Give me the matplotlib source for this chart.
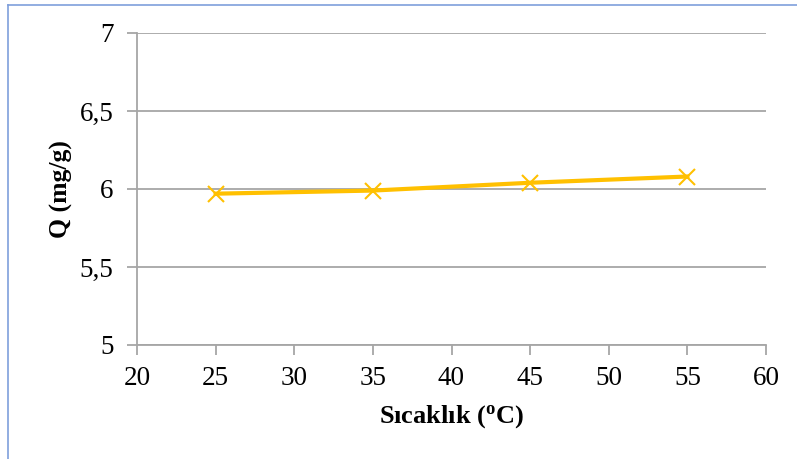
import matplotlib
matplotlib.use("Agg")
import matplotlib.pyplot as plt
from matplotlib.ticker import MultipleLocator, FuncFormatter

temperature = [25, 35, 45, 55]
q_values = [5.97, 5.99, 6.04, 6.08]
x_label = "Sıcaklık ($\\mathbf{^o}$C)"
y_label = "Q (mg/g)"

plt.rcParams['font.family'] = ['Liberation Serif', 'DejaVu Serif']
plt.rcParams['mathtext.fontset'] = 'custom'
plt.rcParams['mathtext.rm'] = 'Liberation Serif'
plt.rcParams['mathtext.bf'] = 'Liberation Serif:bold'
plt.rcParams['mathtext.it'] = 'Liberation Serif:italic'

fig = plt.figure(figsize=(7.97, 4.59), dpi=100)
W, H = 797, 459
ax = fig.add_axes([137 / W, 1 - 345 / H, (766 - 137) / W, (345 - 33) / H])

ax.plot(temperature, q_values, color='#FFC000', linewidth=3, marker='x',
        markersize=11, markeredgewidth=1.5, zorder=3)

ax.set_xlim(20, 60)
ax.set_ylim(5, 7)
ax.xaxis.set_major_locator(MultipleLocator(5))
ax.yaxis.set_major_locator(MultipleLocator(0.5))
ax.yaxis.set_major_formatter(FuncFormatter(lambda v, p: ('%g' % v).replace('.', ',')))

ax.grid(axis='y', color='#A6A6A6', linewidth=1.3)
ax.set_axisbelow(True)
for s in ['top', 'right']:
    ax.spines[s].set_visible(False)
for s in ['left', 'bottom']:
    ax.spines[s].set_color('#A6A6A6')
    ax.spines[s].set_linewidth(1.3)
ax.tick_params(axis='both', colors='#A6A6A6', labelcolor='black', labelsize=19.5,
               length=7, width=1.3, direction='out')
ax.tick_params(axis='x', pad=8)
ax.tick_params(axis='y', pad=10)

ax.set_xlabel(x_label, fontsize=19, fontweight='bold', labelpad=9)
ax.set_ylabel(y_label, fontsize=18.5, fontweight='bold', labelpad=5)

# frame lines (blue) on top and left
fig.add_artist(plt.Line2D([8 / W, 1], [1 - 5 / H, 1 - 5 / H], color='#7F9FDB', linewidth=1.2))
fig.add_artist(plt.Line2D([8 / W, 8 / W], [0, 1 - 5 / H], color='#7F9FDB', linewidth=1.2))

fig.savefig('out.png', dpi=100)
